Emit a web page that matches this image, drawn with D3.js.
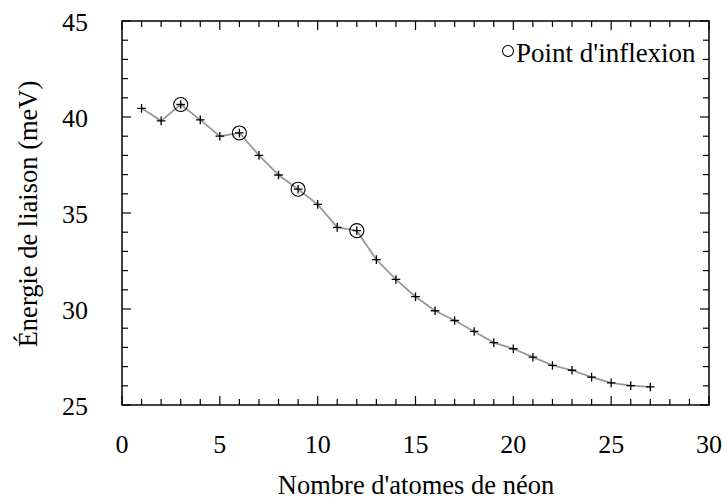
<!DOCTYPE html>
<html><head><meta charset="utf-8">
<script src="https://cdn.jsdelivr.net/npm/d3@7"></script>
<style>body{margin:0;background:#fff}svg{display:block}</style>
</head><body><svg id="c" width="727" height="499"></svg>
<script>
const atoms = [1,2,3,4,5,6,7,8,9,10,11,12,13,14,15,16,17,18,19,20,21,22,23,24,25,26,27];
const energy = [40.45,39.8,40.65,39.85,39.0,39.17,38.0,36.98,36.24,35.45,34.25,34.08,32.57,31.54,30.64,29.91,29.4,28.83,28.25,27.93,27.49,27.06,26.81,26.45,26.15,26.01,25.94];
const inflexion = [3,6,9,12];
const xTicks = [0,5,10,15,20,25,30];
const yTicks = [25,30,35,40,45];
const xLabel = "Nombre d'atomes de néon";
const yLabel = "Énergie de liaison (meV)";
const legendLabel = "Point d'inflexion";

const svg = d3.select("#c");
const FONT = '"Liberation Serif"';
const L=122,R=709,T=21,B=405;
const x = d3.scaleLinear().domain([0,30]).range([L,R]);
const y = d3.scaleLinear().domain([25,45]).range([B,T]);

const line = d3.line().x((d,i)=>x(atoms[i])).y(d=>y(d));
svg.append("path").datum(energy).attr("d",line).attr("fill","none").attr("stroke","#999").attr("stroke-width",1.8);

const s=4.3;
svg.append("g").selectAll("path").data(energy).join("path")
  .attr("d",(d,i)=>`M${x(atoms[i])-s},${y(d)}H${x(atoms[i])+s}M${x(atoms[i])},${y(d)-s}V${y(d)+s}`)
  .attr("stroke","#000").attr("stroke-width",1.3);

svg.append("g").selectAll("circle").data(inflexion).join("circle")
  .attr("cx",d=>x(d)).attr("cy",d=>y(energy[atoms.indexOf(d)]))
  .attr("r",7).attr("fill","none").attr("stroke","#000").attr("stroke-width",1.1);

svg.append("rect").attr("x",L).attr("y",T).attr("width",R-L).attr("height",B-T)
  .attr("fill","none").attr("stroke","#000").attr("stroke-width",1.5);

const minorX = d3.range(0,31,1), minorY = d3.range(25,46,1);
const tk = svg.append("g").attr("stroke","#000").attr("stroke-width",1.2);
minorX.forEach(v=>{const len = v%5===0?9:6;
  tk.append("line").attr("x1",x(v)).attr("x2",x(v)).attr("y1",B).attr("y2",B-len);
  tk.append("line").attr("x1",x(v)).attr("x2",x(v)).attr("y1",T).attr("y2",T+len);});
minorY.forEach(v=>{const len = v%5===0?9:6;
  tk.append("line").attr("y1",y(v)).attr("y2",y(v)).attr("x1",L).attr("x2",L+len);
  tk.append("line").attr("y1",y(v)).attr("y2",y(v)).attr("x1",R).attr("x2",R-len);});

const txt = sel => sel.style("font-family",FONT).attr("fill","#000");
svg.append("g").selectAll("text").data(xTicks).join("text").call(txt)
  .attr("x",d=>x(d)).attr("y",453).attr("text-anchor","middle").attr("font-size",26).text(d=>d);
svg.append("g").selectAll("text").data(yTicks).join("text").call(txt)
  .attr("x",88).attr("y",d=>y(d)+10).attr("text-anchor","end").attr("font-size",26).text(d=>d);

svg.append("text").call(txt).attr("x",416).attr("y",494).attr("text-anchor","middle").attr("font-size",26.5).text(xLabel);
svg.append("text").call(txt).attr("transform","translate(37,214) rotate(-90)").attr("text-anchor","middle").attr("font-size",26.5).text(yLabel);

svg.append("circle").attr("cx",508).attr("cy",51).attr("r",5.5).attr("fill","none").attr("stroke","#000").attr("stroke-width",1.1);
svg.append("text").call(txt).attr("x",516).attr("y",62).attr("font-size",27).text(legendLabel);
</script></body></html>
